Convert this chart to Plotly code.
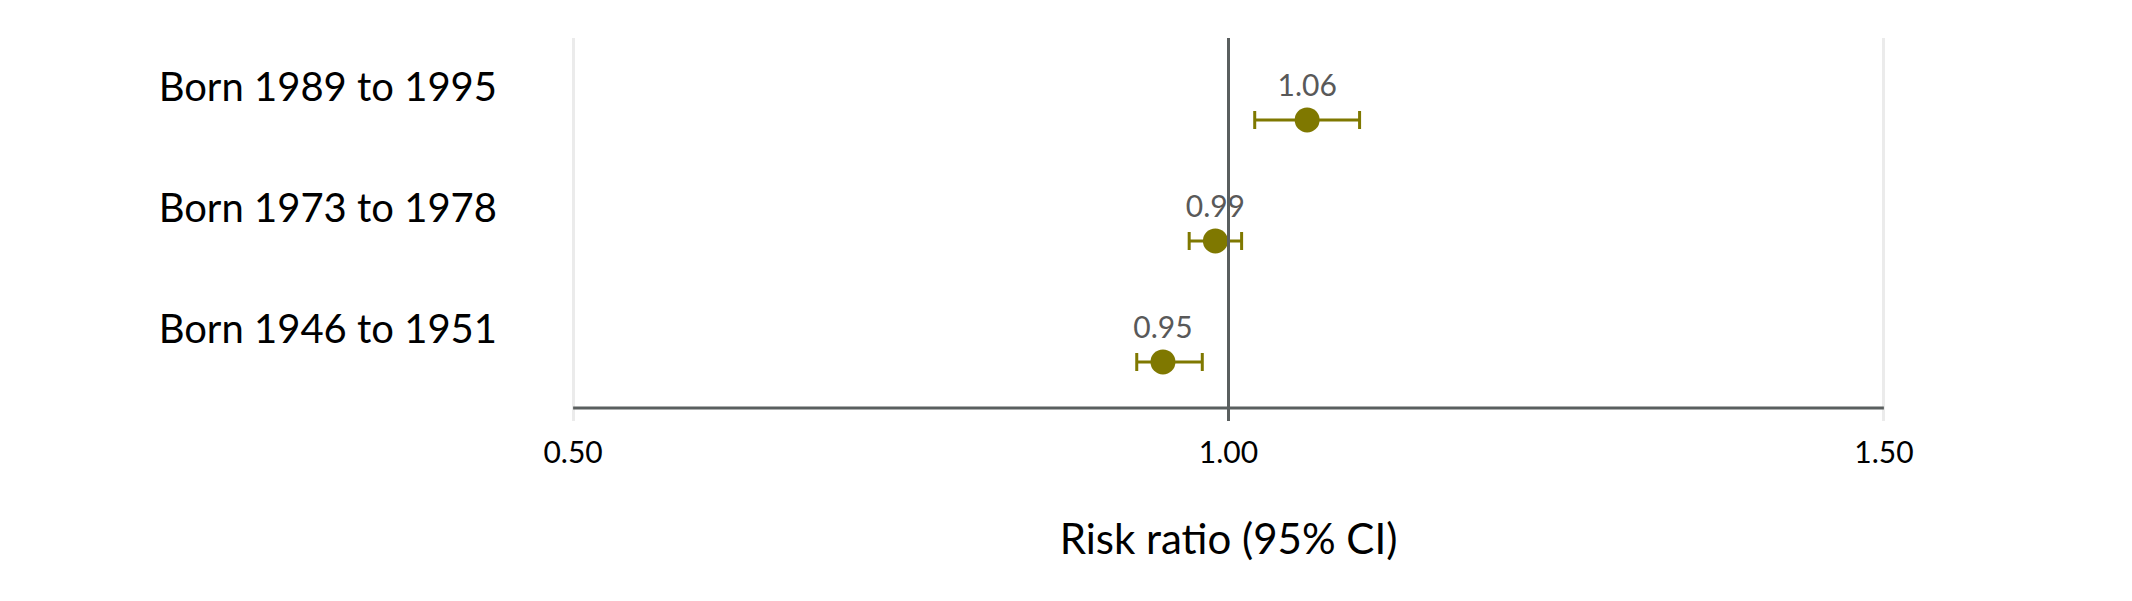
import plotly.graph_objects as go

# ---- data ----
cohorts = ["Born 1946 to 1951", "Born 1973 to 1978", "Born 1989 to 1995"]
risk_ratio = [0.95, 0.99, 1.06]
ci_low = [0.93, 0.97, 1.02]
ci_high = [0.98, 1.01, 1.10]
x_ticks = [0.5, 1.0, 1.5]
x_title = "Risk ratio (95% CI)"

OLIVE = "#7f7800"
AXIS_DARK = "#5a5f5f"
GRID = "#ebebeb"
FONT = "Lato"

err_plus = [h - r for h, r in zip(ci_high, risk_ratio)]
err_minus = [r - l for r, l in zip(risk_ratio, ci_low)]

fig = go.Figure()
fig.add_trace(go.Scatter(
    x=risk_ratio,
    y=cohorts,
    mode="markers+text",
    marker=dict(size=25, color=OLIVE),
    error_x=dict(type="data", symmetric=False, array=err_plus, arrayminus=err_minus,
                 color=OLIVE, thickness=3, width=9),
    texttemplate="%{x:.2f}",
    textposition="top center",
    textfont=dict(family=FONT, size=30, color="#595959"),
    cliponaxis=False,
    hoverinfo="skip",
    showlegend=False,
))

fig.update_layout(
    width=2132, height=601,
    margin=dict(l=552, r=243, t=30, b=188),
    paper_bgcolor="white",
    plot_bgcolor="white",
    font=dict(family=FONT, color="black"),
    xaxis=dict(
        range=[0.49, 1.51],
        tickvals=x_ticks,
        tickformat=".2f",
        showgrid=True, gridcolor=GRID, gridwidth=3,
        zeroline=False, showline=False,
        ticks="outside", ticklen=5, tickcolor="rgba(0,0,0,0)",
        tickfont=dict(family=FONT, size=30, color="black"),
        title=dict(text=x_title, font=dict(family=FONT, size=42, color="black"), standoff=56),
    ),
    yaxis=dict(
        type="category",
        categoryorder="array", categoryarray=cohorts,
        range=[-0.488, 2.677],
        showgrid=False, zeroline=False, showline=False,
        ticks="outside", ticklen=54, tickcolor="rgba(0,0,0,0)",
        ticklabelshift=-33,
        tickfont=dict(family=FONT, size=40, color="black"),
    ),
    shapes=[
        dict(type="line", xref="x", yref="y domain", x0=1.0, x1=1.0, y0=0, y1=1,
             line=dict(color=AXIS_DARK, width=3), layer="above"),
        dict(type="line", xref="x", yref="y domain", x0=x_ticks[0], x1=x_ticks[-1], y0=0.034, y1=0.034,
             line=dict(color=AXIS_DARK, width=3), layer="above"),
    ],
)

fig.write_html("out.html")
